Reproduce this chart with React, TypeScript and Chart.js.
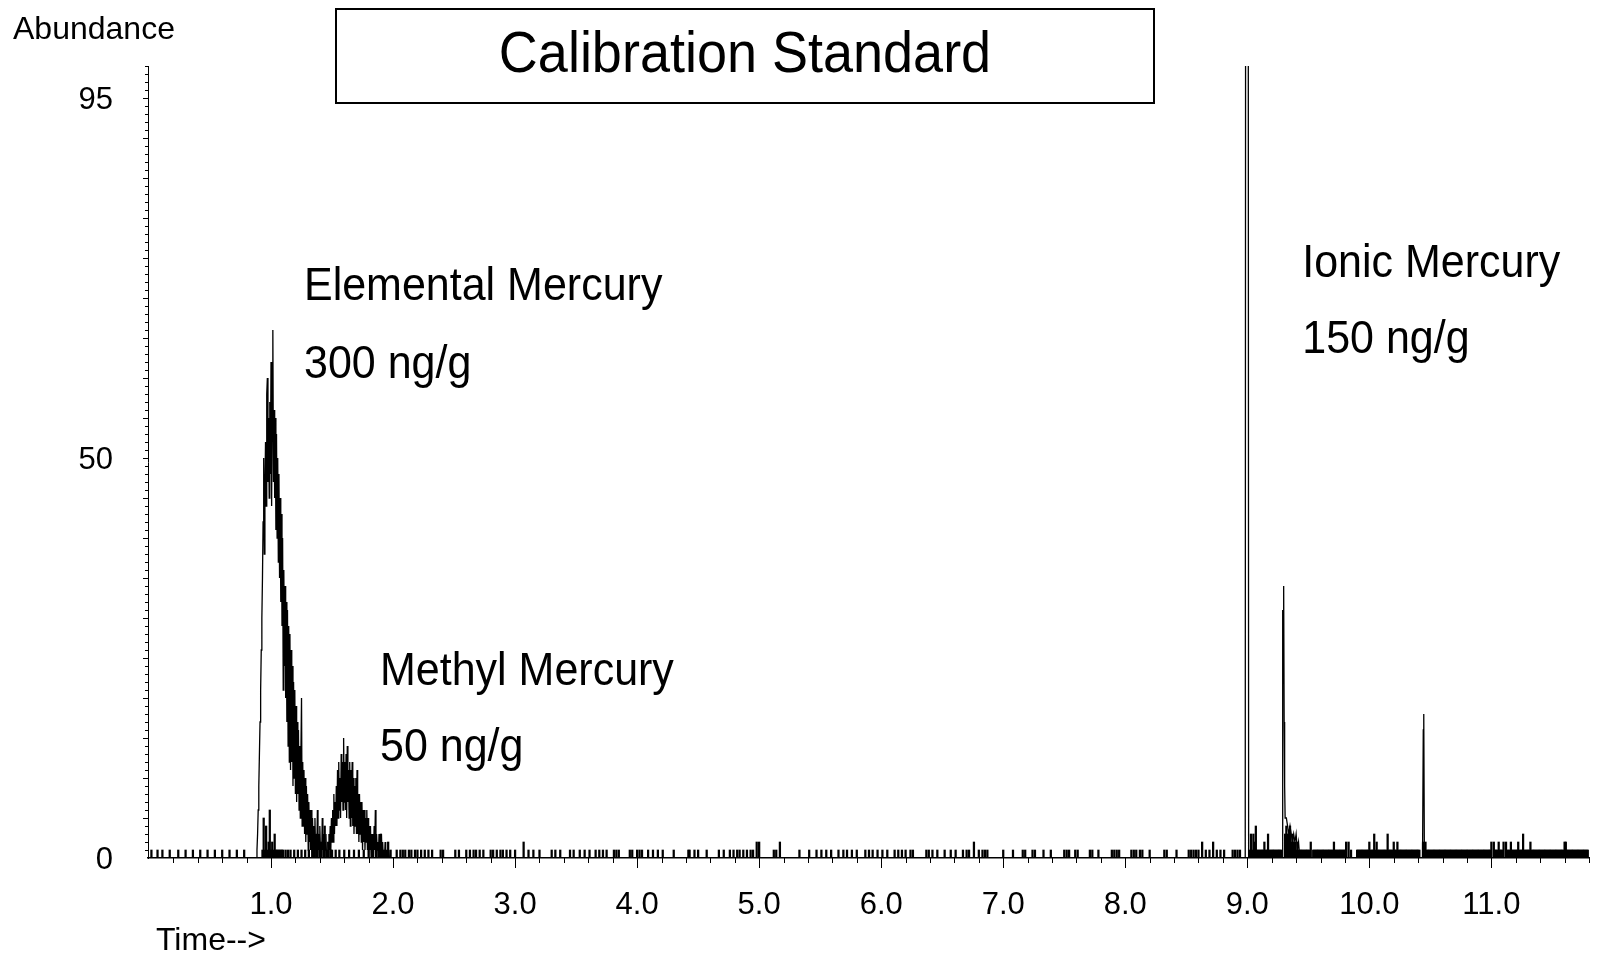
import React, { useEffect, useRef } from "react";
import { Chart, registerables } from "chart.js";

Chart.register(...registerables);

const FONT = "'Liberation Sans', Arial, Helvetica, sans-serif";

const TITLE = "Calibration Standard";
const Y_TITLE = "Abundance";
const X_TITLE = "Time-->";

const X_TICKS = [1, 2, 3, 4, 5, 6, 7, 8, 9, 10, 11];
const Y_TICKS = [0, 50, 95];

// Elemental mercury peak (time in min, abundance)
const elementalTimes = [
  0.88, 0.885, 0.89, 0.895, 0.9, 0.905, 0.91, 0.915, 0.92, 0.925, 0.93, 0.935, 0.94, 0.945,
  0.95, 0.955, 0.96, 0.965, 0.97, 0.975, 0.98, 0.985, 0.99, 0.995, 1.0, 1.005, 1.01, 1.015,
  1.02, 1.025, 1.03, 1.035, 1.04, 1.045, 1.05, 1.055, 1.06, 1.065, 1.07, 1.075, 1.08, 1.085,
  1.09, 1.095, 1.1, 1.105, 1.11, 1.115, 1.12, 1.125, 1.13, 1.135, 1.14, 1.145, 1.15, 1.155,
  1.16, 1.165, 1.17, 1.175, 1.18, 1.185, 1.19, 1.195, 1.2, 1.205, 1.21, 1.215, 1.22, 1.225,
  1.23, 1.235, 1.24, 1.245, 1.25, 1.255, 1.26, 1.265, 1.27, 1.275, 1.28, 1.285, 1.29, 1.295,
  1.3, 1.305, 1.31, 1.315, 1.32, 1.325, 1.33, 1.335, 1.34, 1.345, 1.35, 1.355, 1.36, 1.365,
  1.37, 1.375, 1.38, 1.385, 1.39, 1.395, 1.4, 1.405, 1.41, 1.415, 1.42, 1.425, 1.43, 1.435,
  1.44, 1.445, 1.45, 1.455, 1.46,
];
const elementalAbundance = [
  0, 1, 3, 6, 9, 13, 17, 21, 26, 30, 35, 42, 50, 38,
  46, 52, 44, 58, 60, 47, 55, 45, 57, 48, 62, 44, 58, 66,
  47, 56, 45, 55, 41, 53, 40, 50, 37, 48, 35, 45, 32, 43,
  29, 40, 21, 36, 24, 34, 20, 32, 17, 31, 14, 29, 12, 28,
  11, 26, 12, 24, 9, 22, 10, 21, 8, 19, 7, 17, 8, 16,
  6, 14, 5, 13, 20, 4, 12, 4, 11, 3, 10, 2, 9, 3,
  8, 1, 7, 2, 6, 1, 6, 0, 5, 1, 4, 0, 5, 1,
  3, 0, 6, 1, 3, 0, 4, 1, 2, 0, 5, 1, 3, 0,
  2, 1, 3, 0, 0,
];

// Methyl mercury peak
const methylTimes = [
  1.465, 1.47, 1.475, 1.48, 1.485, 1.49, 1.495, 1.5, 1.505, 1.51, 1.515, 1.52, 1.525, 1.53,
  1.535, 1.54, 1.545, 1.55, 1.555, 1.56, 1.565, 1.57, 1.575, 1.58, 1.585, 1.59, 1.595, 1.6,
  1.605, 1.61, 1.615, 1.62, 1.625, 1.63, 1.635, 1.64, 1.645, 1.65, 1.655, 1.66, 1.665, 1.67,
  1.675, 1.68, 1.685, 1.69, 1.695, 1.7, 1.705, 1.71, 1.715, 1.72, 1.725, 1.73, 1.735, 1.74,
  1.745, 1.75, 1.755, 1.76, 1.765, 1.77, 1.775, 1.78, 1.785, 1.79, 1.795, 1.8, 1.805, 1.81,
  1.815, 1.82, 1.825, 1.83, 1.835, 1.84, 1.845, 1.85, 1.855, 1.86, 1.865, 1.87, 1.875, 1.88,
  1.885, 1.89, 1.895, 1.9, 1.905, 1.91, 1.915, 1.92, 1.925, 1.93, 1.935, 1.94, 1.945, 1.95,
  1.955, 1.96, 1.965, 1.97, 1.975,
];
const methylAbundance = [
  2, 0, 3, 1, 4, 1, 5, 2, 6, 2, 8, 3, 7, 4,
  9, 4, 11, 5, 12, 6, 10, 5, 13, 7, 12, 6, 15, 7,
  12, 6, 13, 5, 14, 7, 11, 5, 12, 4, 11, 5, 12, 4,
  10, 3, 9, 4, 10, 3, 11, 3, 8, 2, 8, 3, 7, 2,
  7, 1, 6, 2, 6, 1, 5, 2, 6, 1, 5, 0, 4, 1,
  4, 0, 3, 1, 3, 0, 4, 1, 6, 0, 3, 1, 2, 0,
  3, 0, 2, 1, 3, 0, 2, 0, 1, 0, 2, 0, 1, 0,
  1, 0, 1, 0, 0,
];

// Ionic mercury peaks (9.0 off scale) and the 9.3 peak
const ionicTimes = [
  8.97, 8.983, 8.997, 9.011, 9.287, 9.29, 9.294, 9.298, 9.302, 9.306, 9.31, 9.32,
  9.33, 9.34, 9.35, 9.36, 9.37, 9.38, 9.39, 9.4, 9.41, 9.42, 9.43,
];
const ionicAbundance = [
  0, 0, 500, 0, 0, 31, 28, 34, 17, 9, 5, 5,
  4, 3, 4, 3, 2, 3, 2, 3, 1, 2, 0,
];

// Late small peak
const lateTimes = [10.43, 10.436, 10.442, 10.446, 10.451, 10.46];
const lateAbundance = [0, 0, 16, 18, 0, 0];

// Baseline noise counts (single, double, taller)
const noiseSingleTimes = [
  0.02, 0.07, 0.11, 0.17, 0.24, 0.3, 0.36, 0.42, 0.48, 0.54, 0.6, 0.66, 0.72, 0.78,
  0.93, 0.95, 0.97, 1.0, 1.02, 1.04, 1.05, 1.06, 1.07, 1.08, 1.09, 1.1, 1.12, 1.14,
  1.16, 1.19, 1.22, 1.25, 1.28, 1.31, 1.34, 1.37, 1.4, 1.43, 1.46, 1.49, 1.5, 1.53,
  1.56, 1.6, 1.64, 1.68, 1.72, 1.76, 1.8, 1.83, 1.88, 1.92, 1.94, 1.98,
  2.03, 2.06, 2.08, 2.1, 2.13, 2.15, 2.18, 2.2, 2.23, 2.26, 2.29, 2.32, 2.39, 2.41,
  2.51, 2.54, 2.6, 2.63, 2.66, 2.68, 2.71, 2.74, 2.8, 2.82, 2.85, 2.88, 2.9, 2.93,
  2.96, 3.0, 3.11, 3.15, 3.2, 3.3, 3.33, 3.37, 3.45, 3.48, 3.53, 3.57, 3.61, 3.66, 3.69,
  3.72, 3.75, 3.81, 3.83, 3.85, 3.94, 3.96, 4.0, 4.02, 4.04, 4.09, 4.13, 4.17, 4.21,
  4.3, 4.42, 4.43, 4.47, 4.5, 4.57, 4.67, 4.71, 4.76, 4.79, 4.82, 4.84, 4.87, 4.9,
  4.93, 4.95, 5.12, 5.14, 5.33, 5.41, 5.47, 5.51, 5.55, 5.59, 5.65, 5.69, 5.72, 5.76,
  5.8, 5.87, 5.9, 5.93, 5.97, 6.01, 6.05, 6.11, 6.14, 6.17, 6.2, 6.24, 6.26, 6.37,
  6.39, 6.42, 6.46, 6.52, 6.57, 6.61, 6.67, 6.7, 6.72, 6.8, 6.83, 6.85, 6.87, 7.0,
  7.08, 7.16, 7.18, 7.24, 7.26, 7.33, 7.39, 7.5, 7.52, 7.54, 7.59, 7.61, 7.71, 7.73, 7.78,
  7.89, 7.91, 7.93, 7.95, 8.05, 8.07, 8.09, 8.12, 8.14, 8.2, 8.32, 8.34, 8.42, 8.52,
  8.54, 8.56, 8.58, 8.6, 8.66, 8.69, 8.75, 8.78, 8.81, 8.88, 8.9, 8.92, 8.94,
  9.02, 9.04, 9.08, 9.09, 9.1, 9.11, 9.12, 9.13, 9.15, 9.16, 9.18, 9.19, 9.2, 9.21,
  9.22, 9.23, 9.24, 9.25, 9.26, 9.27, 9.28,
  9.4, 9.42, 9.43, 9.44, 9.45, 9.46, 9.47, 9.48, 9.49, 9.5, 9.51, 9.54, 9.55, 9.56,
  9.57, 9.58, 9.59, 9.6, 9.61, 9.62, 9.63, 9.64, 9.65, 9.66, 9.67, 9.68, 9.69, 9.7,
  9.72, 9.73, 9.74, 9.75, 9.76, 9.77, 9.78, 9.79, 9.8, 9.85,
  9.9, 9.91, 9.92, 9.93, 9.94, 9.95, 9.96, 9.97, 9.98, 9.99, 10.01, 10.02, 10.03, 10.05,
  10.07, 10.08, 10.09, 10.1, 10.11, 10.12, 10.13, 10.14, 10.16, 10.17, 10.18, 10.19,
  10.21, 10.22, 10.24, 10.25, 10.26, 10.27, 10.28, 10.29, 10.3, 10.31, 10.32, 10.33,
  10.34, 10.35, 10.36, 10.37, 10.38, 10.39, 10.4, 10.41, 10.47, 10.48, 10.49, 10.5,
  10.51, 10.52, 10.53, 10.54, 10.55, 10.56, 10.57, 10.58, 10.59, 10.6, 10.61, 10.62,
  10.63, 10.64, 10.65, 10.66, 10.67, 10.68, 10.69, 10.7, 10.71, 10.72, 10.73, 10.74,
  10.75, 10.76, 10.77, 10.78, 10.79, 10.8, 10.81, 10.82, 10.83, 10.84, 10.85, 10.86,
  10.87, 10.88, 10.89, 10.9, 10.91, 10.92, 10.93, 10.94, 10.95, 10.96, 10.97, 10.98,
  10.99, 11.03, 11.04, 11.05, 11.07, 11.08, 11.09, 11.13, 11.14, 11.15, 11.17, 11.18,
  11.19, 11.2, 11.21, 11.23, 11.24, 11.25, 11.27, 11.28, 11.29, 11.3, 11.31, 11.33,
  11.34, 11.35, 11.36, 11.37, 11.38, 11.39, 11.4, 11.41, 11.42, 11.43, 11.44, 11.45,
  11.46, 11.47, 11.48, 11.49, 11.5, 11.51, 11.52, 11.53, 11.54, 11.55, 11.56, 11.57,
  11.58, 11.59, 11.62, 11.63, 11.64, 11.65, 11.66, 11.67, 11.68, 11.69, 11.7, 11.71,
  11.72, 11.73, 11.74, 11.75, 11.76, 11.77, 11.78, 11.79,
];
const noiseDoubleTimes = [
  0.98, 1.01, 1.35, 1.41, 1.47, 1.86, 1.96, 3.07, 4.98, 5.0, 5.17, 6.76, 8.63, 8.72,
  9.06, 9.14, 9.36, 9.38, 9.39, 9.41, 9.52, 9.71, 9.81, 9.83, 10.0, 10.06, 10.2,
  10.23, 10.44, 10.46, 11.0, 11.02, 11.06, 11.1, 11.12, 11.16, 11.22, 11.32, 11.6, 11.61,
];
const noiseTallTimes = [
  0.94, 0.96, 0.99, 1.03, 1.38, 1.44, 1.9, 9.03, 9.05, 9.07, 9.17, 9.31, 9.32, 9.33,
  9.34, 9.35, 9.37, 10.04, 10.15, 11.26,
];
const noiseTallCounts = [5, 4, 6, 3, 3, 4, 3, 3, 3, 4, 3, 3, 4, 3, 3, 4, 3, 3, 3, 3];

// Text annotations (anchored in data coordinates)
const annotationLabels = ["Elemental Mercury", "300 ng/g", "Methyl Mercury", "50 ng/g", "Ionic Mercury", "150 ng/g"];
const annotationTimes = [1.27, 1.27, 1.893, 1.893, 9.45, 9.45];
const annotationLevels = [71.3, 61.6, 23.2, 13.66, 74.2, 64.66];

const zip = (ts: number[], vs: number[]) => ts.map((t, i) => ({ x: t, y: vs[i] }));

function drawText(
  ctx: CanvasRenderingContext2D,
  text: string,
  x: number,
  y: number,
  size: number,
  align: CanvasTextAlign,
  stretchY: number
) {
  ctx.save();
  ctx.font = `${size}px ${FONT}`;
  ctx.fillStyle = "#000";
  ctx.textAlign = align;
  ctx.textBaseline = "middle";
  ctx.translate(x, y);
  ctx.scale(1, stretchY);
  ctx.fillText(text, 0, 0);
  ctx.restore();
}

const decorPlugin = {
  id: "decor",
  afterDraw(chart: any) {
    const { ctx, chartArea } = chart;
    const xs = chart.scales.x;
    const ys = chart.scales.y;
    ctx.save();
    ctx.strokeStyle = "#000";
    ctx.lineWidth = 1;
    ctx.beginPath();
    for (let i = 1; i <= 59; i++) {
      const px = Math.round(xs.getPixelForValue(i * 0.2)) + 0.5;
      const len = i % 5 === 0 ? 10 : 5;
      ctx.moveTo(px, chartArea.bottom);
      ctx.lineTo(px, chartArea.bottom + len);
    }
    for (let v = 1; v <= 99; v++) {
      const py = Math.round(ys.getPixelForValue(v)) + 0.5;
      const len = v % 5 === 0 ? 5 : 3;
      ctx.moveTo(chartArea.left - len, py);
      ctx.lineTo(chartArea.left, py);
    }
    ctx.stroke();

    // title box
    ctx.lineWidth = 2;
    ctx.strokeRect(336, 9, 818, 94);
    ctx.restore();

    drawText(ctx, TITLE, 745, 56, 54, "center", 1.05);
    drawText(ctx, Y_TITLE, 13, 30, 32, "left", 1);
    drawText(ctx, X_TITLE, 156, 941, 32, "left", 1);

    annotationLabels.forEach((label, i) => {
      const x = xs.getPixelForValue(annotationTimes[i]);
      const y = ys.getPixelForValue(annotationLevels[i]);
      drawText(ctx, label, x, y, 43, "left", 1.06);
    });
  },
};

export default function App() {
  const canvasRef = useRef<HTMLCanvasElement | null>(null);

  useEffect(() => {
    if (!canvasRef.current) return;
    const lineStyle = {
      type: "line" as const,
      borderColor: "#000",
      borderWidth: 1.3,
      pointRadius: 0,
      tension: 0,
      fill: false,
    };
    const noiseData = [
      ...noiseSingleTimes.map((t) => ({ x: t, y: 1 })),
      ...noiseDoubleTimes.map((t) => ({ x: t, y: 2 })),
      ...zip(noiseTallTimes, noiseTallCounts),
    ];
    const chart = new Chart(canvasRef.current, {
      type: "line",
      data: {
        datasets: [
          { ...lineStyle, label: "Elemental", data: zip(elementalTimes, elementalAbundance) },
          { ...lineStyle, label: "Methyl", data: zip(methylTimes, methylAbundance) },
          { ...lineStyle, label: "Ionic", data: zip(ionicTimes, ionicAbundance) },
          { ...lineStyle, label: "Late", data: zip(lateTimes, lateAbundance) },
          {
            type: "bar",
            label: "Noise",
            data: noiseData,
            backgroundColor: "#000",
            borderWidth: 0,
            barThickness: 1.6,
          } as any,
        ],
      },
      options: {
        animation: false,
        responsive: false,
        events: [],
        layout: { padding: { top: 66, right: 10, left: 0, bottom: 0 } },
        plugins: {
          legend: { display: false },
          tooltip: { enabled: false },
          title: { display: false },
        },
        scales: {
          x: {
            type: "linear",
            min: -0.008,
            max: 11.8,
            offset: false,
            grid: { display: false, drawTicks: false },
            border: { display: true, color: "#000", width: 1.5 },
            afterBuildTicks: (s: any) => {
              s.ticks = X_TICKS.map((v) => ({ value: v }));
            },
            afterFit: (s: any) => {
              s.height = 98;
            },
            ticks: {
              autoSkip: false,
              maxRotation: 0,
              padding: 29,
              color: "#000",
              font: { family: FONT, size: 31 },
              callback: (v: any) => Number(v).toFixed(1),
            },
          },
          y: {
            type: "linear",
            min: 0,
            max: 99,
            grid: { display: false, drawTicks: false },
            border: { display: true, color: "#000", width: 1 },
            afterBuildTicks: (s: any) => {
              s.ticks = Y_TICKS.map((v) => ({ value: v }));
            },
            afterFit: (s: any) => {
              s.width = 148;
            },
            ticks: {
              autoSkip: false,
              padding: 35,
              labelOffset: 2,
              color: "#000",
              font: { family: FONT, size: 31 },
              callback: (v: any) => String(v),
            },
          },
        },
      } as any,
      plugins: [decorPlugin],
    });
    return () => chart.destroy();
  }, []);

  return (
    <div style={{ position: "absolute", left: 0, top: 0, width: 1599, height: 956, background: "#fff" }}>
      <canvas ref={canvasRef} width={1599} height={956} style={{ display: "block" }} />
    </div>
  );
}
